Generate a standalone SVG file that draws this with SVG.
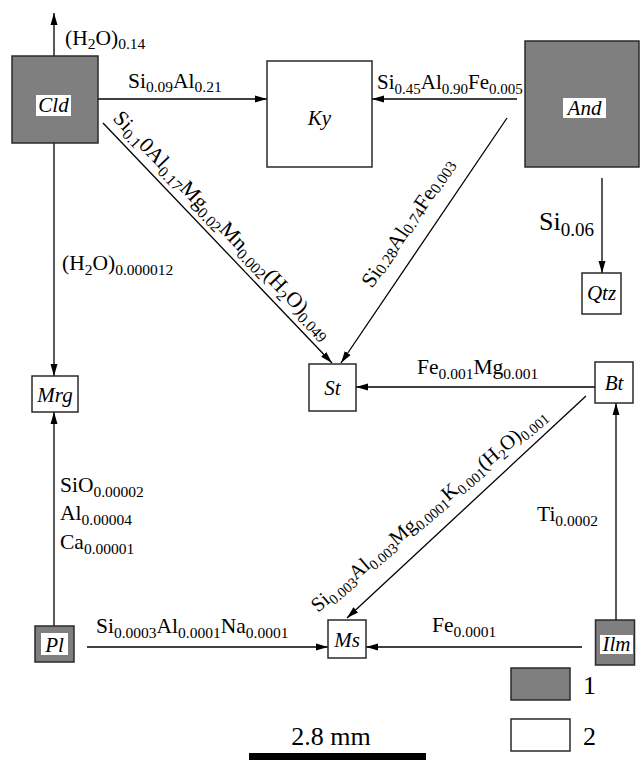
<svg xmlns="http://www.w3.org/2000/svg" width="642" height="760" viewBox="0 0 642 760">
<style>
.t{font-family:"Liberation Serif","Times New Roman",serif;font-size:21.5px;fill:#000}
.s{font-size:15.5px}
.m{font-size:21px}
.ms{font-size:15px}
.d{font-size:20.5px}
.ds{font-size:14.5px}
.big{font-size:26px}
.bs{font-size:19px}
.nl{font-family:"Liberation Serif","Times New Roman",serif;font-size:21px;font-style:italic;fill:#000;text-anchor:middle}
.box{stroke:#2a2a2a;stroke-width:1.5}
.g{fill:#7f7f7f}
.w{fill:#fff}
.c{stroke:#000;stroke-width:1.3;fill:none;marker-end:url(#ah)}
</style>
<defs>
<marker id="ah" markerUnits="userSpaceOnUse" markerWidth="13" markerHeight="8" refX="12" refY="4" orient="auto"><path d="M0,0.5 L12,4 L0,7.5 z" fill="#000"/></marker>
</defs>
<rect width="642" height="760" fill="#fff"/>

<g id="connectors">
<line class="c" x1="54" y1="56" x2="54" y2="13"/>
<line class="c" x1="98" y1="99" x2="267" y2="99"/>
<line class="c" x1="517" y1="99" x2="372" y2="99"/>
<line class="c" x1="103" y1="123" x2="332" y2="363"/>
<line class="c" x1="507" y1="118" x2="341" y2="363"/>
<line class="c" x1="602" y1="178" x2="602" y2="273"/>
<line class="c" x1="54" y1="143" x2="54" y2="376"/>
<line class="c" x1="54" y1="626" x2="54" y2="412"/>
<line class="c" x1="595" y1="387" x2="356" y2="387"/>
<line class="c" x1="586" y1="396" x2="347" y2="618"/>
<line class="c" x1="616" y1="620" x2="616" y2="403"/>
<line class="c" x1="87" y1="647" x2="328" y2="647"/>
<line class="c" x1="582" y1="647" x2="366" y2="647"/>

<text class="t" x="65" y="44.5">(H<tspan class="s" dy="4.5">2</tspan><tspan dy="-4.5">O)</tspan><tspan class="s" dy="4.5">0.14</tspan></text>
<text class="t" x="128" y="87.5">Si<tspan class="s" dy="4.5">0.09</tspan><tspan dy="-4.5">Al</tspan><tspan class="s" dy="4.5">0.21</tspan></text>
<text class="t m" x="377" y="89">Si<tspan class="ms" dy="4.5">0.45</tspan><tspan dy="-4.5">Al</tspan><tspan class="ms" dy="4.5">0.90</tspan><tspan dy="-4.5">Fe</tspan><tspan class="ms" dy="4.5">0.005</tspan></text>
<text class="t" transform="translate(112,119) rotate(46.3)">Si<tspan class="s" dy="4.5">0.1</tspan><tspan dy="-4.5">0Al</tspan><tspan class="s" dy="4.5">0.17</tspan><tspan dy="-4.5">Mg</tspan><tspan class="s" dy="4.5">0.02</tspan><tspan dy="-4.5">Mn</tspan><tspan class="s" dy="4.5">0.002</tspan><tspan dy="-4.5">(H</tspan><tspan class="s" dy="4.5">2</tspan><tspan dy="-4.5">O)</tspan><tspan class="s" dy="4.5">0.049</tspan></text>
<text class="t" transform="translate(372,289) rotate(-55.9)">Si<tspan class="s" dy="1.5">0.28</tspan><tspan dy="-1.5">Al</tspan><tspan class="s" dy="1.5">0.74</tspan><tspan dy="-1.5">Fe</tspan><tspan class="s" dy="1.5">0.003</tspan></text>
<text class="t big" x="539" y="230">Si<tspan class="bs" dy="5.5">0.06</tspan></text>
<text class="t" x="62" y="270">(H<tspan class="s" dy="4.5">2</tspan><tspan dy="-4.5">O)</tspan><tspan class="s" dy="4.5">0.000012</tspan></text>
<text class="t" x="417" y="374">Fe<tspan class="s" dy="4.5">0.001</tspan><tspan dy="-4.5">Mg</tspan><tspan class="s" dy="4.5">0.001</tspan></text>
<text class="t d" transform="translate(318,613) rotate(-40.5)">Si<tspan class="ds" dy="4.5">0.003</tspan><tspan dy="-4.5">Al</tspan><tspan class="ds" dy="4.5">0.003</tspan><tspan dy="-4.5">Mg</tspan><tspan class="ds" dy="4.5">0.0001</tspan><tspan dy="-4.5">K</tspan><tspan class="ds" dy="4.5">0.001</tspan><tspan dy="-4.5">(H</tspan><tspan class="ds" dy="4.5">2</tspan><tspan dy="-4.5">O)</tspan><tspan class="ds" dy="4.5">0.001</tspan></text>
<text class="t" x="537" y="521">Ti<tspan class="s" dy="4.5">0.0002</tspan></text>
<text class="t" x="60" y="492">SiO<tspan class="s" dy="4.5">0.00002</tspan></text>
<text class="t" x="60" y="520">Al<tspan class="s" dy="4.5">0.00004</tspan></text>
<text class="t" x="60" y="549">Ca<tspan class="s" dy="4.5">0.00001</tspan></text>
<text class="t" x="96" y="633">Si<tspan class="s" dy="4.5">0.0003</tspan><tspan dy="-4.5">Al</tspan><tspan class="s" dy="4.5">0.0001</tspan><tspan dy="-4.5">Na</tspan><tspan class="s" dy="4.5">0.0001</tspan></text>
<text class="t" x="432" y="632">Fe<tspan class="s" dy="4.5">0.0001</tspan></text>
</g>

<g id="node-Cld"><rect class="box g" x="12" y="56" width="86" height="87"/><rect class="w" x="36" y="95" width="35" height="21"/><text class="nl" x="53.5" y="112">Cld</text></g>
<g id="node-Ky"><rect class="box w" x="267" y="61" width="105" height="106"/><text class="nl" x="319.5" y="125">Ky</text></g>
<g id="node-And"><rect class="box g" x="525" y="41" width="114" height="126"/><rect class="w" x="563" y="98" width="43" height="20"/><text class="nl" x="584.5" y="115">And</text></g>
<g id="node-Qtz"><rect class="box w" x="582" y="273" width="39" height="41"/><text class="nl" x="601.5" y="300">Qtz</text></g>
<g id="node-Mrg"><rect class="box w" x="32" y="376" width="46" height="36"/><text class="nl" x="55" y="402">Mrg</text></g>
<g id="node-St"><rect class="box w" x="309" y="364" width="47" height="47"/><text class="nl" x="332.5" y="395">St</text></g>
<g id="node-Bt"><rect class="box w" x="595" y="362" width="38" height="41"/><text class="nl" x="614" y="390">Bt</text></g>
<g id="node-Ms"><rect class="box w" x="328" y="620" width="38" height="38"/><text class="nl" x="347" y="647">Ms</text></g>
<g id="node-Pl"><rect class="box g" x="35" y="626" width="39" height="36"/><rect class="w" x="41" y="633" width="27" height="22"/><text class="nl" x="54.5" y="652">Pl</text></g>
<g id="node-Ilm"><rect class="box g" x="595.5" y="620" width="39" height="45"/><rect class="w" x="600" y="635" width="33" height="19"/><text class="nl" x="616.5" y="651">Ilm</text></g>

<g id="legend">
<rect class="box g" x="511" y="668" width="59" height="32"/>
<text class="t big" x="583" y="694">1</text>
<rect class="box w" x="511" y="719" width="59" height="32"/>
<text class="t big" x="583" y="745">2</text>
<text class="t big" x="331" y="745" text-anchor="middle">2.8 mm</text>
<rect x="249" y="753" width="177" height="8" fill="#000"/>
</g>
</svg>
